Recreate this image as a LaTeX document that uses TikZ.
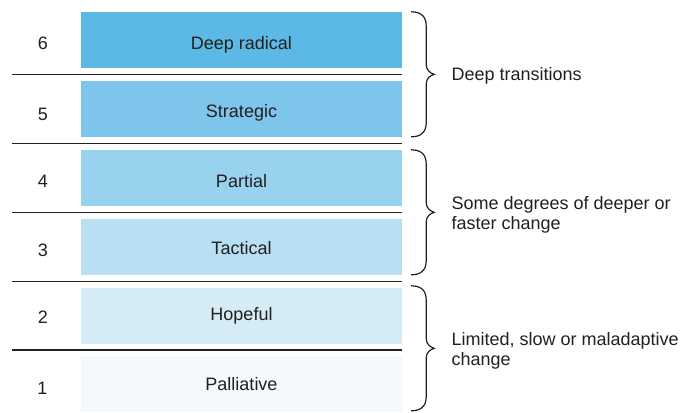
\documentclass[tikz,border=0pt]{standalone}
\usepackage{fontspec}
\setmainfont{Liberation Sans}
\definecolor{lvlSix}{RGB}{92,184,228}
\definecolor{lvlFive}{RGB}{125,197,234}
\definecolor{lvlFour}{RGB}{153,210,238}
\definecolor{lvlThree}{RGB}{184,224,242}
\definecolor{lvlTwo}{RGB}{213,235,246}
\definecolor{lvlOne}{RGB}{243,249,252}
\definecolor{inkGray}{RGB}{35,31,32}
\tikzset{
  pics/grpbrace/.style={code={
    \draw[draw=inkGray,line width=1.2pt] (0,0) .. controls (9,0) and (15,4) .. (15,14) -- (15,53)
      .. controls (15,58) and (19,61.5) .. (23,62.5) .. controls (19,63.5) and (15,67) .. (15,72)
      -- (15,111) .. controls (15,121) and (9,125) .. (0,125);
  }}
}

\begin{document}
\begin{tikzpicture}[x=1pt,y=-1pt,font=\fontsize{18}{20}\selectfont,text=inkGray,
  level/.style={minimum width=321pt,minimum height=56pt,inner sep=0pt,text height=18.5pt,text depth=0pt},
  num/.style={inner sep=0pt,anchor=base},
  sep/.style={draw=inkGray,line width=1.3pt}]
  \useasboundingbox (0,0) rectangle (687,412);
  \node[level,fill=lvlSix] (six) at (241.5,40) {Deep radical};
  \node[level,fill=lvlFive,text height=16.6pt] (five) at (241.5,109) {Strategic};
  \node[level,fill=lvlFour] (four) at (241.5,178) {Partial};
  \node[level,fill=lvlThree,text height=14.6pt] (three) at (241.5,247) {Tactical};
  \node[level,fill=lvlTwo,text height=9.6pt] (two) at (241.5,316) {Hopeful};
  \node[level,fill=lvlOne,text height=12pt] (one) at (241.5,384) {Palliative};
  \node[num] (n6) at (43,49.3) {6};
  \node[num] (n5) at (43,120) {5};
  \node[num] (n4) at (43,187.7) {4};
  \node[num] (n3) at (43,256.7) {3};
  \node[num] (n2) at (43,323.3) {2};
  \node[num] (n1) at (42.5,394) {1};
  \draw[sep] (12,74.3)--(402,74.3);
  \draw[sep] (12,143.3)--(402,143.3);
  \draw[sep] (12,212.3)--(402,212.3);
  \draw[sep] (12,281.3)--(402,281.3);
  \draw[sep] (12,350)--(402,350);
  \pic at ([xshift=9pt]six.north east) {grpbrace};
  \pic at ([xshift=9pt]four.north east) {grpbrace};
  \pic at ([xshift=9pt,yshift=2pt]two.north east) {grpbrace};
  \node[anchor=west] (deep) at (448,75.5) {Deep transitions};
  \node[anchor=west,align=left] (some) at (448,214.4) {Some degrees of deeper or\\faster change};
  \node[anchor=west,align=left] (slow) at (448,350.4) {Limited, slow or maladaptive\\change};
\end{tikzpicture}
\end{document}
